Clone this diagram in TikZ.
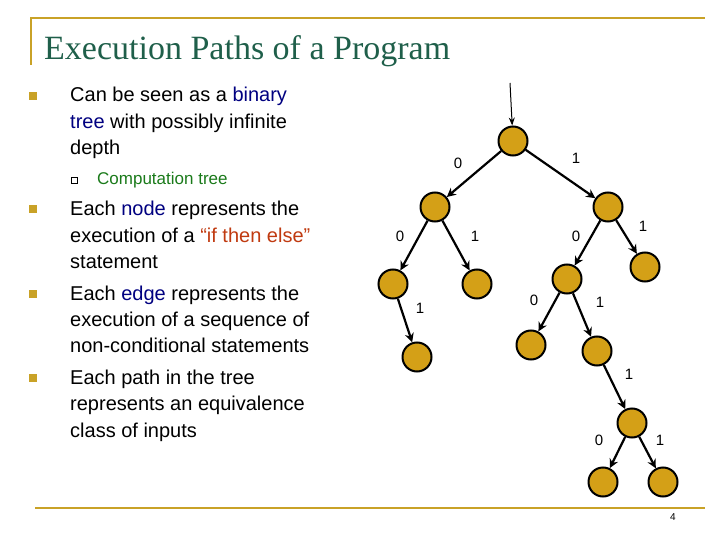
\documentclass[tikz,border=0pt]{standalone}
\usepackage{fontspec}
\setmainfont{Liberation Sans}
\newfontfamily\titlefont{Liberation Serif}
\usetikzlibrary{arrows.meta}
\definecolor{gold}{HTML}{C9A227}
\definecolor{nodegold}{HTML}{D4A017}
\definecolor{titlegreen}{HTML}{1F5F4A}
\definecolor{navy}{HTML}{000080}
\definecolor{redor}{HTML}{C03A10}
\definecolor{subgreen}{HTML}{1A7A1A}
\tikzset{
 tn/.style={circle,draw=black,line width=2pt,fill=nodegold,minimum size=29pt,inner sep=0pt},
 ed/.style={line width=2.2pt,-{Stealth[length=9pt,width=9pt]}},
 lb/.style={font=\fontsize{15}{15}\selectfont},
 txt/.style={anchor=base west,inner sep=0pt,font=\fontsize{20}{26}\selectfont},
 bul/.style={fill=gold,minimum size=8pt,inner sep=0pt},
}
\begin{document}
\begin{tikzpicture}[x=1pt,y=-1pt]
\useasboundingbox (0,0) rectangle (720,540);
\draw[gold,line width=2.5pt] (31,65) -- (31,18) -- (705,18);
\draw[gold,line width=2.5pt] (35,508) -- (705,508);
\node[anchor=base west,inner sep=0pt,text=titlegreen,font=\titlefont\fontsize{34}{34}\selectfont] (title) at (44,60) {Execution Paths of a Program};
\node[font=\fontsize{10}{10}\selectfont] (pg) at (673,517) {4};
% bullets
\node[bul] (b1) at (33,96) {};
\node[bul] (b2) at (33,209) {};
\node[bul] (b3) at (33,294) {};
\node[bul] (b4) at (33,378) {};
\node[draw=black,line width=0.6pt,minimum size=6pt,inner sep=0pt] (sb) at (74,180) {};
\node[txt] (t1) at (70,102) {Can be seen as a \textcolor{navy}{binary}};
\node[txt] (t2) at (70,129) {\textcolor{navy}{tree} with possibly infinite};
\node[txt] (t3) at (70,155) {depth};
\node[txt,font=\fontsize{17}{22}\selectfont,text=subgreen] (t4) at (97,185) {Computation tree};
\node[txt] (t5) at (70,215) {Each \textcolor{navy}{node} represents the};
\node[txt] (t6) at (70,242) {execution of a \textcolor{redor}{“if then else”}};
\node[txt] (t7) at (70,268) {statement};
\node[txt] (t8) at (70,300) {Each \textcolor{navy}{edge} represents the};
\node[txt] (t9) at (70,326) {execution of a sequence of};
\node[txt] (t10) at (70,352) {non-conditional statements};
\node[txt] (t11) at (70,384) {Each path in the tree};
\node[txt] (t12) at (70,410) {represents an equivalence};
\node[txt] (t13) at (70,437) {class of inputs};
% tree
\coordinate (top) at (510,83);
\node[tn] (r) at (513,141) {};
\node[tn] (a) at (435,207) {};
\node[tn] (b) at (608,207) {};
\node[tn] (aa) at (393,284) {};
\node[tn] (ab) at (477,284) {};
\node[tn] (ba) at (567,279) {};
\node[tn] (bb) at (645,267) {};
\node[tn] (aab) at (417,357) {};
\node[tn] (baa) at (531,345) {};
\node[tn] (bab) at (597,351) {};
\node[tn] (babb) at (632,423) {};
\node[tn] (x0) at (603,482) {};
\node[tn] (x1) at (663,482) {};
\draw[line width=1pt,-{Stealth[length=8pt,width=6pt]}] (top) -- (r);
\draw[ed] (r) -- (a);
\draw[ed] (r) -- (b);
\draw[ed] (a) -- (aa);
\draw[ed] (a) -- (ab);
\draw[ed] (aa) -- (aab);
\draw[ed] (b) -- (ba);
\draw[ed] (b) -- (bb);
\draw[ed] (ba) -- (baa);
\draw[ed] (ba) -- (bab);
\draw[ed] (bab) -- (babb);
\draw[ed] (babb) -- (x0);
\draw[ed] (babb) -- (x1);
\node[lb] (l1) at (458,163) {0};
\node[lb] (l2) at (576,158) {1};
\node[lb] (l3) at (400,236) {0};
\node[lb] (l4) at (475,236) {1};
\node[lb] (l5) at (576,236) {0};
\node[lb] (l6) at (643,226) {1};
\node[lb] (l7) at (420,308) {1};
\node[lb] (l8) at (534,300) {0};
\node[lb] (l9) at (600,302) {1};
\node[lb] (l10) at (629,374) {1};
\node[lb] (l11) at (599,440) {0};
\node[lb] (l12) at (660,440) {1};
\end{tikzpicture}
\end{document}
